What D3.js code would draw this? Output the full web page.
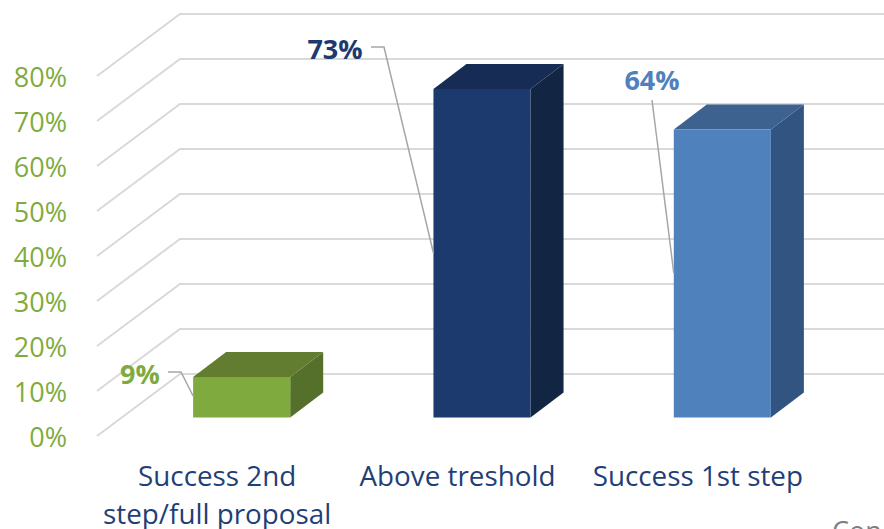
<!DOCTYPE html>
<html>
<head>
<meta charset="utf-8">
<script src="https://d3js.org/d3.v7.min.js"></script>
<style>
  html, body { margin: 0; padding: 0; background: #fff; overflow: hidden; }
  svg { display: block; }
  text { font-family: "Open Sans", "Noto Sans", sans-serif; }
</style>
</head>
<body>
<div class="chart"></div>
<script>
var categories = ["Success 2nd|step/full proposal", "Above treshold", "Success 1st step"];
var values = [9, 73, 64];
var valueLabels = ["9%", "73%", "64%"];
var frontColors = ["#7FAB3E", "#1C3A6E", "#4F81BD"];
var topColors = ["#627D30", "#162C54", "#3D628F"];
var sideColors = ["#54702B", "#122644", "#325480"];
var labelColors = ["#7FAB3E", "#1C3A6E", "#4F81BD"];
var yTicks = [0, 10, 20, 30, 40, 50, 60, 70, 80];

var width = 884, height = 529;

var svg = d3.select(".chart").append("svg")
    .attr("width", width)
    .attr("height", height);

// y on the front edge of the floor, the wall is shifted back from it
var y = d3.scaleLinear().domain([0, 80]).range([436, 76]);
var wall = { dx: 83, dy: -62 };

// bars stand part of the way in on the floor
var barBase = -18.5;
var barDepth = { dx: 33, dy: -25 };

var x = d3.scaleBand()
    .domain(categories)
    .range([121.5, 842.5])
    .paddingInner(0.596)
    .paddingOuter(0.298);

// gridlines: side wall wedge and back wall
var grid = svg.append("g");
yTicks.forEach(function(t) {
    grid.append("path")
        .attr("fill", "none")
        .attr("stroke", "#D9D9D9")
        .attr("stroke-width", 2)
        .attr("d", d3.line()([
            [97, y(t)],
            [97 + wall.dx, y(t) + wall.dy],
            [width, y(t) + wall.dy]
        ]));
});

// y axis
var yAxis = svg.append("g")
    .attr("transform", "translate(67,2)")
    .call(d3.axisLeft(y).tickValues(yTicks).tickSize(0).tickPadding(0)
        .tickFormat(function(d) { return d + "%"; }));
yAxis.select(".domain").remove();
yAxis.selectAll("text")
    .attr("font-family", null)
    .attr("font-size", 27)
    .attr("fill", "#7FAB3E");

// bars
categories.forEach(function(c, i) {
    var x0 = x(c), x1 = x0 + x.bandwidth();
    var yb = y(0) + barBase, yt = y(values[i]) + barBase;
    var d = barDepth;
    var g = svg.append("g");
    g.append("path").attr("fill", sideColors[i])
        .attr("d", d3.line()([[x1, yb], [x1 + d.dx, yb + d.dy], [x1 + d.dx, yt + d.dy], [x1, yt]]) + "Z");
    g.append("path").attr("fill", topColors[i])
        .attr("d", d3.line()([[x0, yt], [x0 + d.dx, yt + d.dy], [x1 + d.dx, yt + d.dy], [x1, yt]]) + "Z");
    g.append("rect").attr("fill", frontColors[i])
        .attr("x", x0).attr("y", yt)
        .attr("width", x.bandwidth()).attr("height", yb - yt);
});

// data labels with leader lines, placed by hand from the bar they point at
var leaders = [
    { text: [140, 375], line: [[168, 372], [181, 372], [0, 396]] },
    { text: [335, 50], line: [[371, 47], [384, 47], [0, 253]] },
    { text: [652, 81], line: [[652, 100], [0, 273]] }
];
leaders.forEach(function(l, i) {
    var pts = l.line.map(function(p, j) {
        return j === l.line.length - 1 ? [x(categories[i]), p[1]] : p;
    });
    svg.append("path")
        .attr("fill", "none")
        .attr("stroke", "#A6A6A6")
        .attr("stroke-width", 1.5)
        .attr("d", d3.line()(pts));
    svg.append("text")
        .attr("x", l.text[0]).attr("y", l.text[1])
        .attr("dy", "0.35em")
        .attr("text-anchor", "middle")
        .attr("font-size", 27)
        .attr("font-weight", 700)
        .attr("fill", labelColors[i])
        .text(valueLabels[i]);
});

// category labels sit to the left of their bars
categories.forEach(function(c) {
    var t = svg.append("text")
        .attr("text-anchor", "middle")
        .attr("font-size", 27.8)
        .attr("fill", "#1F3F77");
    c.split("|").forEach(function(part, j) {
        t.append("tspan")
            .attr("x", x(c) + x.bandwidth() / 2 - 24.5)
            .attr("y", 486 + j * 38)
            .text(part);
    });
});

// clipped text at the page edge
svg.append("text")
    .attr("x", 832).attr("y", 541)
    .attr("font-size", 27)
    .attr("fill", "#7F7F7F")
    .text("Con");
</script>
</body>
</html>
